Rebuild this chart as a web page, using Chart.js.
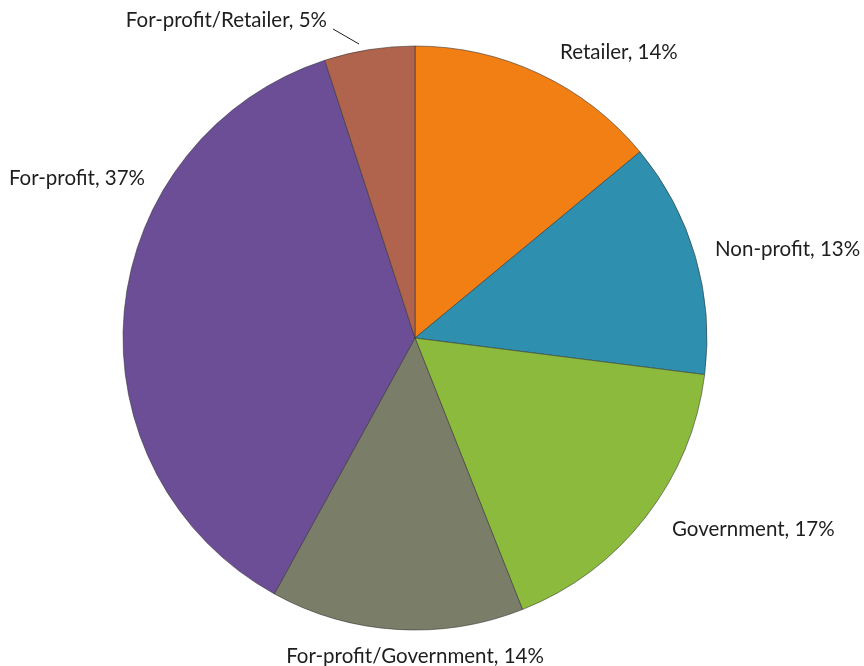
<!DOCTYPE html>
<html>
<head>
<meta charset="utf-8">
<script src="https://cdn.jsdelivr.net/npm/chart.js@4"></script>
<style>
  html, body { margin: 0; padding: 0; background: #fff; }
  #wrap { width: 864px; height: 666px; }
</style>
</head>
<body>
<div id="wrap"><canvas id="myChart" width="864" height="666"></canvas></div>
<script>
// 파이 조각 이름과 비율(%)
const categories = ['Retailer', 'Non-profit', 'Government', 'For-profit/Government', 'For-profit', 'For-profit/Retailer'];
const shares = [14, 13, 17, 14, 37, 5];
const colors = ['#f27f14', '#2e8fae', '#8cba3c', '#7a7d68', '#6b4e95', '#b0644e'];

// 라벨 위치 (파이 중심 기준 오프셋, 글자 기준선)
const labelOffsets = [
    { dx: 145, dy: -279, align: 'left' },
    { dx: 300, dy: -82, align: 'left' },
    { dx: 257, dy: 198, align: 'left' },
    { dx: 0, dy: 325, align: 'center' },
    { dx: -270, dy: -153, align: 'right' },
    { dx: -88, dy: -311, align: 'right', leader: { x1: -82, y1: -309, x2: -56, y2: -294 } }
];

// 조각 바깥에 "이름, 값%" 라벨을 그리는 플러그인
const pieLabels = {
    id: 'pieLabels',
    afterDatasetsDraw(chart) {
        const c = chart.ctx;
        const meta = chart.getDatasetMeta(0);
        c.save();
        c.font = '20.5px Lato, "Open Sans", sans-serif';
        c.fillStyle = '#1e1e1e';
        c.textBaseline = 'alphabetic';
        meta.data.forEach((arc, i) => {
            const o = labelOffsets[i];
            c.textAlign = o.align;
            c.fillText(categories[i] + ', ' + shares[i] + '%', arc.x + o.dx, arc.y + o.dy);
            if (o.leader) {
                // 작은 조각은 지시선으로 연결
                c.strokeStyle = '#1e1e1e';
                c.lineWidth = 1;
                c.beginPath();
                c.moveTo(arc.x + o.leader.x1, arc.y + o.leader.y1);
                c.lineTo(arc.x + o.leader.x2, arc.y + o.leader.y2);
                c.stroke();
            }
        });
        c.restore();
    }
};

const ctx = document.querySelector('#myChart').getContext('2d');
const chart = new Chart(ctx, {
    type: 'pie',
    data: {
        labels: categories,
        datasets: [{
            data: shares,
            backgroundColor: colors,
            borderColor: 'rgba(50,50,50,0.55)',
            borderWidth: 1,
            hoverOffset: 0
        }]
    },
    options: {
        responsive: false,
        animation: false,
        radius: 292,
        layout: {
            padding: { top: 46, bottom: 36, left: 123, right: 157 }
        },
        plugins: {
            legend: { display: false },
            tooltip: { enabled: false }
        }
    },
    plugins: [pieLabels]
});
</script>
</body>
</html>
